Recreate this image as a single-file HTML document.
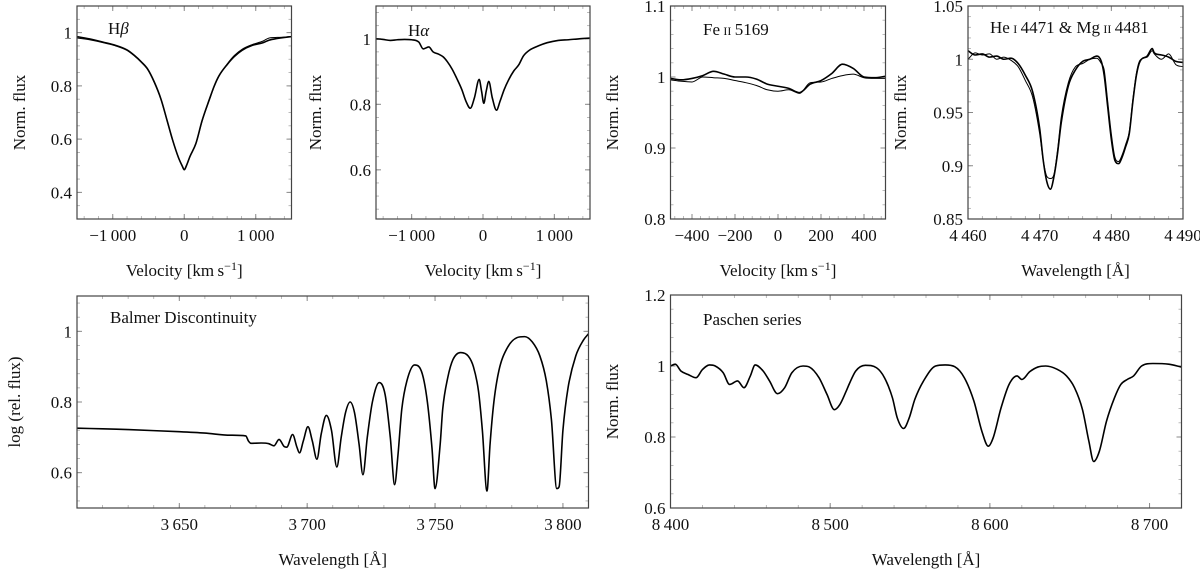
<!DOCTYPE html>
<html><head><meta charset="utf-8">
<style>
html,body{margin:0;padding:0;background:#fff;}
svg{display:block;}
svg text{font-family:"Liberation Serif","Times New Roman","DejaVu Serif",serif;}
</style></head>
<body>
<svg id="fig" width="1200" height="573" viewBox="0 0 1200 573" xmlns="http://www.w3.org/2000/svg"></svg>
<script>
// ---------- DATA ----------
const hbVel = [-1500,-1300,-1100,-970,-800,-700,-600,-514,-420,-324,-240,-162,-80,-30,0,30,80,162,250,351,420,486,600,700,811,950,1100,1189,1300,1400,1500];
const hbFluxA = [0.985,0.975,0.962,0.953,0.935,0.915,0.89,0.864,0.815,0.749,0.67,0.596,0.53,0.50,0.485,0.50,0.535,0.583,0.67,0.749,0.80,0.838,0.88,0.91,0.934,0.952,0.962,0.972,0.978,0.982,0.985];
const hbFluxB = [0.98,0.972,0.96,0.951,0.933,0.913,0.888,0.862,0.813,0.748,0.669,0.595,0.53,0.50,0.487,0.50,0.535,0.582,0.668,0.747,0.798,0.836,0.882,0.914,0.938,0.955,0.968,0.98,0.982,0.983,0.986];
const haVel = [-1500,-1400,-1300,-1200,-1100,-1000,-900,-838,-760,-700,-622,-560,-500,-432,-370,-297,-240,-178,-120,-54,-20,11,45,81,130,189,240,297,360,432,500,568,650,784,900,1054,1200,1350,1500];
const haFlux = [1.0,0.998,0.995,0.997,0.998,0.997,0.99,0.969,0.975,0.96,0.953,0.945,0.93,0.907,0.88,0.845,0.81,0.788,0.82,0.876,0.84,0.803,0.84,0.87,0.82,0.782,0.81,0.845,0.875,0.902,0.92,0.948,0.965,0.979,0.988,0.995,0.997,1.0,1.002];
const feVel = [-500,-450,-400,-350,-300,-250,-200,-150,-100,-50,0,50,100,150,200,250,300,350,400,450,500];
const feFluxA = [0.998,0.996,0.998,1.002,1.008,1.004,1.0,1.0,0.997,0.99,0.987,0.984,0.978,0.99,0.995,1.005,1.018,1.012,1.0,0.999,1.001];
const feFluxB = [0.996,0.994,0.993,1.0,0.999,0.998,0.995,0.992,0.988,0.982,0.980,0.982,0.977,0.992,0.993,0.998,1.002,1.004,0.999,0.998,0.998];
const heWave = [4460,4461,4462,4463,4464,4465,4466,4467,4468,4469,4470,4470.5,4471,4471.5,4472,4472.5,4473,4474,4475,4476,4477,4478,4478.6,4479,4479.5,4480,4480.5,4481,4481.5,4482,4482.5,4483,4483.5,4484,4485,4485.7,4486,4487,4488,4489,4490];
const heFluxA = [1.008,1.004,1.005,1.002,1.003,1.0,1.001,0.996,0.985,0.970,0.935,0.905,0.885,0.878,0.890,0.912,0.94,0.975,0.99,0.998,1.0,1.003,0.998,0.985,0.955,0.925,0.905,0.902,0.908,0.918,0.93,0.96,0.985,0.998,1.003,1.01,1.006,1.004,1.002,0.998,0.997];
const heFluxB = [1.0,1.006,1.004,1.005,1.0,1.002,0.999,0.993,0.98,0.965,0.93,0.905,0.89,0.888,0.892,0.915,0.945,0.978,0.993,0.996,1.0,1.001,0.996,0.99,0.96,0.93,0.908,0.904,0.91,0.92,0.932,0.962,0.987,0.999,1.002,1.008,1.005,1.0,1.005,0.995,0.993];
const bdWave = [3610,3620,3630,3640,3650,3660,3670,3676,3677,3678,3682,3685,3687,3689,3691,3692,3694.3,3696,3697,3698.5,3700.3,3702,3703.8,3705.5,3707.5,3709.5,3711.6,3713.3,3715,3716.8,3718.5,3720.3,3721.8,3723.5,3725.5,3728.2,3730.5,3732.5,3734.2,3735.5,3737,3739,3742,3745,3747,3748.8,3750,3752,3753,3755,3757,3760,3763,3765,3767,3768.5,3770.3,3771.5,3773,3775,3778,3782,3785,3788,3791,3793.5,3795.5,3797.6,3798.5,3800,3802,3805,3808,3810];
const bdFlux = [0.726,0.724,0.722,0.719,0.716,0.712,0.706,0.704,0.69,0.683,0.684,0.682,0.676,0.694,0.674,0.672,0.708,0.672,0.656,0.69,0.73,0.69,0.638,0.71,0.762,0.72,0.616,0.7,0.77,0.8,0.77,0.68,0.594,0.7,0.8,0.855,0.82,0.7,0.566,0.65,0.78,0.86,0.905,0.88,0.8,0.67,0.555,0.68,0.78,0.87,0.92,0.94,0.93,0.9,0.83,0.72,0.548,0.68,0.8,0.89,0.95,0.982,0.985,0.97,0.93,0.86,0.75,0.555,0.56,0.72,0.84,0.93,0.975,0.993];
const paWave = [8400,8403,8406.5,8411,8416,8420,8424.5,8428,8433,8437,8442,8446,8450,8453,8458,8462,8467,8471.5,8476,8483,8487,8493,8498,8502.6,8506,8510,8512,8516,8522,8529,8534,8539,8542,8546,8549.5,8553,8559,8566,8572,8578,8584,8590,8595,8599,8602,8607,8612,8617,8620,8625,8630,8635,8642,8648,8653,8658,8662,8665,8668.5,8673,8678,8682,8686,8690,8695,8702,8712,8720];
const paFlux = [1.0,1.005,0.986,0.976,0.967,0.99,1.003,1.0,0.981,0.948,0.958,0.939,0.972,1.003,0.986,0.958,0.922,0.939,0.981,1.0,0.997,0.967,0.92,0.877,0.891,0.929,0.95,0.986,1.002,0.995,0.967,0.91,0.854,0.824,0.854,0.906,0.962,1.0,1.003,0.998,0.967,0.901,0.816,0.774,0.797,0.882,0.948,0.972,0.962,0.984,0.997,1.0,0.991,0.972,0.939,0.877,0.788,0.731,0.759,0.844,0.910,0.948,0.962,0.972,1.0,1.007,1.005,0.997];

// ---------- DRAW ----------
const NS = "http://www.w3.org/2000/svg";
const svg = document.getElementById("fig");
function mk(tag, attrs, parent){
  const e = document.createElementNS(NS, tag);
  for (const k in attrs) e.setAttribute(k, attrs[k]);
  (parent||svg).appendChild(e);
  return e;
}
function fmt(v){
  let s = String(Math.round(Math.abs(v)*1000)/1000);
  let [ip, fp] = s.split(".");
  if (ip.length >= 4) ip = ip.slice(0, ip.length-3) + "\u2009" + ip.slice(-3);
  s = fp ? ip + "." + fp : ip;
  return (v < 0 ? "\u2212" : "") + s;
}
// monotone cubic path (Fritsch-Carlson)
function smoothPath(X, Y){
  const n = X.length, d = [], m = [];
  for (let i=0;i<n-1;i++) d.push((Y[i+1]-Y[i])/(X[i+1]-X[i]));
  m[0]=d[0]; m[n-1]=d[n-2];
  for (let i=1;i<n-1;i++){ m[i] = (d[i-1]*d[i] <= 0) ? 0 : (d[i-1]+d[i])/2; }
  for (let i=0;i<n-1;i++){
    if (d[i]===0){ m[i]=0; m[i+1]=0; continue; }
    const a=m[i]/d[i], b=m[i+1]/d[i], h=a*a+b*b;
    if (h>9){ const t=3/Math.sqrt(h); m[i]=t*a*d[i]; m[i+1]=t*b*d[i]; }
  }
  let s = "M"+X[0].toFixed(2)+","+Y[0].toFixed(2);
  for (let i=0;i<n-1;i++){
    const h=(X[i+1]-X[i])/3;
    s += " C"+(X[i]+h).toFixed(2)+","+(Y[i]+m[i]*h).toFixed(2)+" "+(X[i+1]-h).toFixed(2)+","+(Y[i+1]-m[i+1]*h).toFixed(2)+" "+X[i+1].toFixed(2)+","+Y[i+1].toFixed(2);
  }
  return s;
}
function panel(p){
  const g = mk("g", {});
  
  
  const sx = v => p.x0 + (v - p.xd[0]) / (p.xd[1] - p.xd[0]) * (p.x1 - p.x0);
  const sy = v => p.y1 - (v - p.yd[0]) / (p.yd[1] - p.yd[0]) * (p.y1 - p.y0);
  const eps = 1e-9;
  for (let v = Math.ceil(p.xd[0]/p.xmin - eps)*p.xmin; v <= p.xd[1]+eps; v += p.xmin){
    const x = sx(v);
    if (x <= p.x0+0.5 || x >= p.x1-0.5) continue;
    mk("line",{x1:x,x2:x,y1:p.y1,y2:p.y1-3,stroke:"#aaa","stroke-width":0.8},g);
    mk("line",{x1:x,x2:x,y1:p.y0,y2:p.y0+3,stroke:"#aaa","stroke-width":0.8},g);
  }
  for (let v = Math.ceil(p.yd[0]/p.ymin - eps)*p.ymin; v <= p.yd[1]+eps; v += p.ymin){
    const y = sy(v);
    if (y <= p.y0+0.5 || y >= p.y1-0.5) continue;
    mk("line",{x1:p.x0,x2:p.x0+3,y1:y,y2:y,stroke:"#aaa","stroke-width":0.8},g);
    mk("line",{x1:p.x1,x2:p.x1-3,y1:y,y2:y,stroke:"#aaa","stroke-width":0.8},g);
  }
  p.xt.forEach(v => {
    const x = sx(v);
    mk("line",{x1:x,x2:x,y1:p.y1,y2:p.y1-5,stroke:"#888","stroke-width":1},g);
    mk("line",{x1:x,x2:x,y1:p.y0,y2:p.y0+5,stroke:"#888","stroke-width":1},g);
    const t = mk("text",{x:x,y:p.y1+22,"text-anchor":"middle","font-size":17,fill:"#111"},g);
    t.textContent = fmt(v);
    
    
  });
  p.yt.forEach(v => {
    const y = sy(v);
    mk("line",{x1:p.x0,x2:p.x0+5,y1:y,y2:y,stroke:"#888","stroke-width":1},g);
    mk("line",{x1:p.x1,x2:p.x1-5,y1:y,y2:y,stroke:"#888","stroke-width":1},g);
    const t = mk("text",{x:p.x0-5,y:y+6,"text-anchor":"end","font-size":17,fill:"#111"},g);
    t.textContent = fmt(v);
    
    
  });
  const cp = mk("clipPath",{id:"cp"+p.name},g);
  mk("rect",{x:p.x0,y:p.y0,width:p.x1-p.x0,height:p.y1-p.y0},cp);
  p.series.forEach((ys, i) => {
    const d = smoothPath(p.xs.map(sx), ys.map(sy));
    const pl = mk("path",{d:d,fill:"none",stroke:"#000","stroke-width":i===0?1.6:1,"stroke-linejoin":"round","clip-path":"url(#cp"+p.name+")"},g);
    
    
  });
  const fr = mk("rect",{x:p.x0,y:p.y0,width:p.x1-p.x0,height:p.y1-p.y0,fill:"none",stroke:"#444","stroke-width":1.2},g);
  
  
  const xl = mk("text",{x:(p.x0+p.x1)/2,y:p.y1+57,"text-anchor":"middle","font-size":17,fill:"#111"},g);
  xl.innerHTML = p.xlabel;
  
  
  const yx = p.ylx, yy = (p.y0+p.y1)/2;
  const yl = mk("text",{x:yx,y:yy,"text-anchor":"middle","font-size":17,fill:"#111",transform:"rotate(-90 "+yx+" "+yy+")"},g);
  yl.textContent = p.ylabel;
  
  
  const an = mk("text",{x:p.ax,y:p.ay,"font-size":17,fill:"#111"},g);
  an.innerHTML = p.annot;
  
  
}
const velLbl = 'Velocity [km\u2009s<tspan dy="-6" font-size="12">\u22121</tspan><tspan dy="6">]</tspan>';
const wlLbl = 'Wavelength [\u00C5]';
const sc = '<tspan font-size="12">II</tspan>';
const sc1 = '<tspan font-size="12">I</tspan>';
panel({name:"hbeta-panel",x0:77,x1:291.5,y0:6,y1:219,xd:[-1500,1500],yd:[0.3,1.1],xt:[-1000,0,1000],yt:[0.4,0.6,0.8,1],xmin:200,ymin:0.05,xs:hbVel,series:[hbFluxA,hbFluxB],xlabel:velLbl,ylabel:"Norm. flux",ylx:25,ax:108,ay:34,annot:'H<tspan font-style="italic">β</tspan>'});
panel({name:"halpha-panel",x0:376,x1:590,y0:6,y1:219,xd:[-1500,1500],yd:[0.45,1.1],xt:[-1000,0,1000],yt:[0.6,0.8,1],xmin:200,ymin:0.04,xs:haVel,series:[haFlux],xlabel:velLbl,ylabel:"Norm. flux",ylx:321,ax:408,ay:36,annot:'H<tspan font-style="italic">α</tspan>'});
panel({name:"feii-panel",x0:670.5,x1:885.5,y0:6,y1:219,xd:[-500,500],yd:[0.8,1.1],xt:[-400,-200,0,200,400],yt:[0.8,0.9,1,1.1],xmin:40,ymin:0.02,xs:feVel,series:[feFluxA,feFluxB],xlabel:velLbl,ylabel:"Norm. flux",ylx:618,ax:703,ay:35,annot:'Fe\u2009'+sc+'\u20095169'});
panel({name:"hei-mgii-panel",x0:968,x1:1183,y0:6,y1:219,xd:[4460,4490],yd:[0.85,1.05],xt:[4460,4470,4480,4490],yt:[0.85,0.9,0.95,1,1.05],xmin:2,ymin:0.01,xs:heWave,series:[heFluxA,heFluxB],xlabel:wlLbl,ylabel:"Norm. flux",ylx:906,ax:990,ay:33,annot:'He\u2009'+sc1+'\u20094471 &amp; Mg\u2009'+sc+'\u20094481'});
panel({name:"balmer-panel",x0:77,x1:588.5,y0:296,y1:508,xd:[3610,3810],yd:[0.5,1.1],xt:[3650,3700,3750,3800],yt:[0.6,0.8,1],xmin:10,ymin:0.04,xs:bdWave,series:[bdFlux],xlabel:wlLbl,ylabel:"log (rel. flux)",ylx:20,ax:110,ay:323,annot:'Balmer Discontinuity'});
panel({name:"paschen-panel",x0:670.5,x1:1181.5,y0:295,y1:508,xd:[8400,8720],yd:[0.6,1.2],xt:[8400,8500,8600,8700],yt:[0.6,0.8,1,1.2],xmin:20,ymin:0.04,xs:paWave,series:[paFlux],xlabel:wlLbl,ylabel:"Norm. flux",ylx:618,ax:703,ay:325,annot:'Paschen series'});
</script>
</body></html>
